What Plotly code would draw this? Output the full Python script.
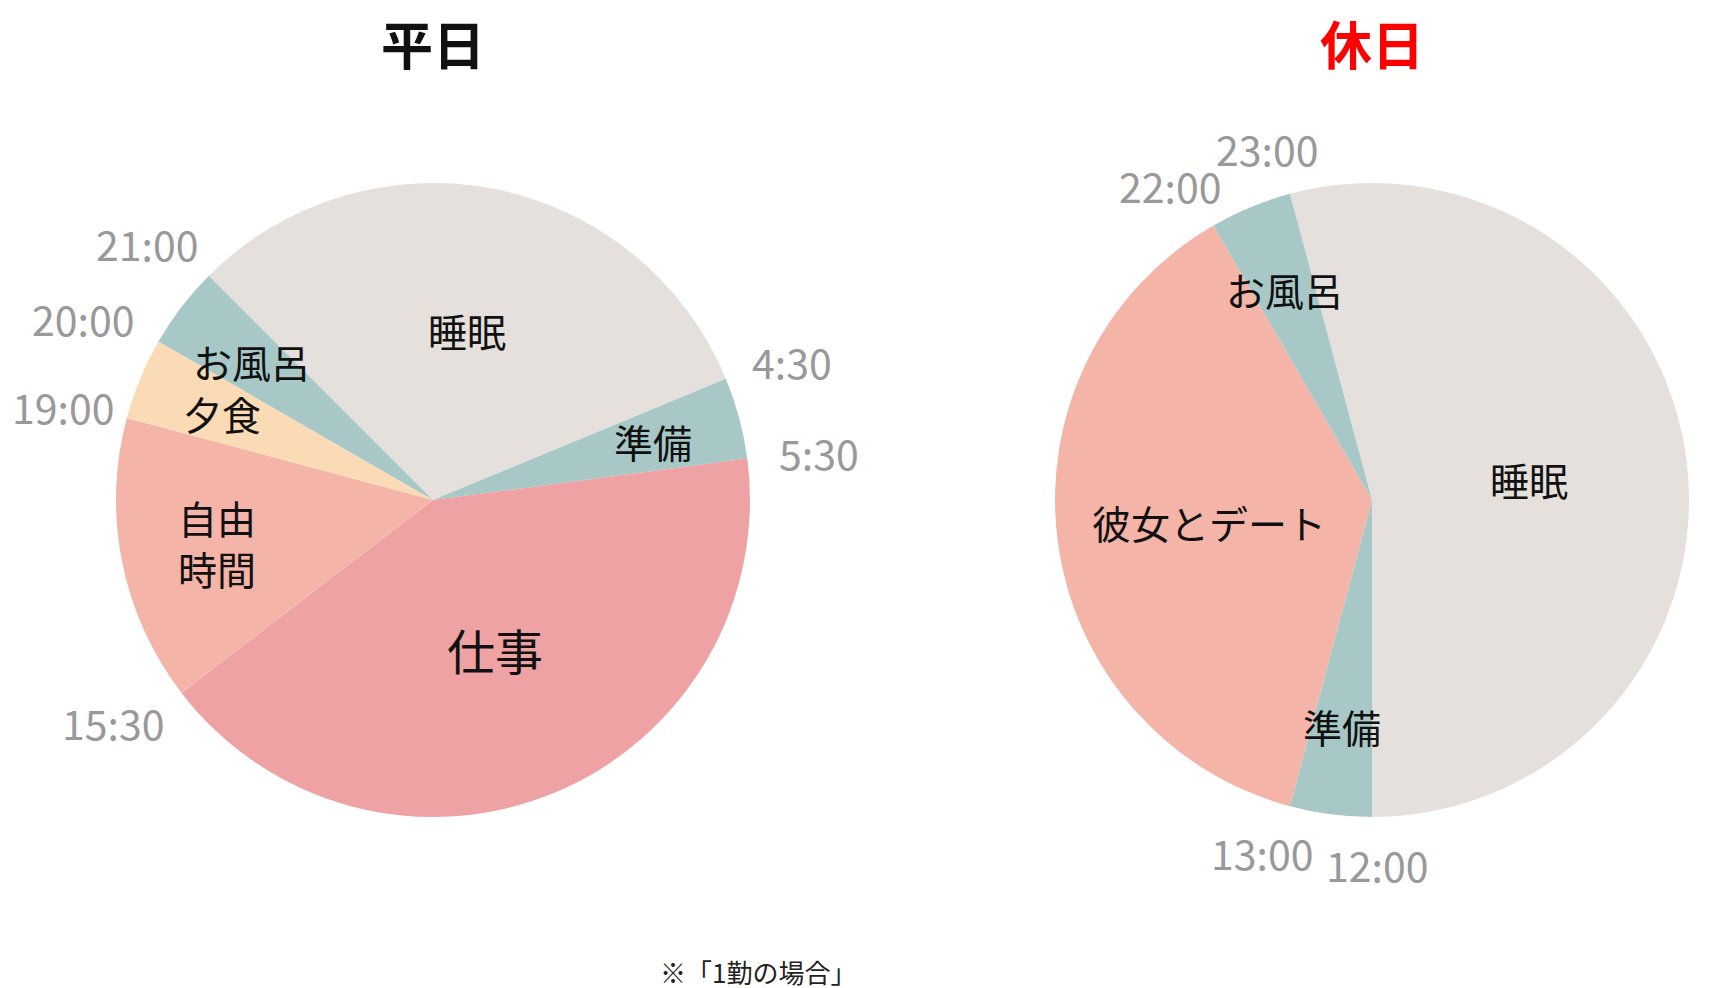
"""Daily schedule as two 24-hour clock pies: weekday vs. holiday."""

import math

import plotly.graph_objects as go

# --- data -------------------------------------------------------------------
weekday_labels = ["睡眠", "準備", "仕事", "自由時間", "夕食", "お風呂"]
weekday_text = ["睡眠", "準備", "仕事", "自由<br>時間", "夕食", "お風呂"]
weekday_hours = [7.5, 1, 10, 3.5, 1, 1]
weekday_start = 21.0

holiday_labels = ["睡眠", "準備", "彼女とデート", "お風呂"]
holiday_text = ["睡眠", "準備", "彼女とデート", "お風呂"]
holiday_hours = [13, 1, 9, 1]
holiday_start = 23.0

colors = {
    "睡眠": "#e5e0dc",
    "準備": "#a8c8c8",
    "お風呂": "#a8c8c8",
    "仕事": "#eea2a3",
    "自由時間": "#f4b4a8",
    "彼女とデート": "#f4b4a8",
    "夕食": "#fbdbb5",
}

W, H = 1726, 988
R = 317  # pie radius in px
FONT = "Noto Sans CJK JP"
TIME_SIZE = 41


def fmt_time(h):
    h = h % 24
    return f"{int(h)}:{int(round((h - int(h)) * 60)):02d}"


def text_width(s, size):
    # rough advance widths for digits / colon in Noto Sans CJK
    return sum((0.27 if ch == ":" else 0.56) * size for ch in s)


def add_clock_pie(fig, labels, texts, hours, start, cx_px, cy_px, title, title_color):
    x0, x1 = (cx_px - R) / W, (cx_px + R) / W
    y0, y1 = 1 - (cy_px + R) / H, 1 - (cy_px - R) / H
    fig.add_trace(
        go.Pie(
            labels=labels,
            values=hours,
            sort=False,
            direction="clockwise",
            rotation=start / 24 * 360,
            marker=dict(colors=[colors[l] for l in labels], line=dict(width=0)),
            textinfo="none",
            hoverinfo="label+value",
            showlegend=False,
            domain=dict(x=[x0, x1], y=[y0, y1]),
        )
    )

    def polar(angle_deg, r_px):
        a = math.radians(angle_deg)
        return cx_px + r_px * math.sin(a), cy_px - r_px * math.cos(a)

    total = sum(hours)
    t = start
    time_boxes = []
    for lab, txt, h in zip(labels, texts, hours):
        a0 = t / total * 360
        a1 = (t + h) / total * 360
        half = math.radians((a1 - a0) / 2)
        # label sits at the centre of the slice's inscribed circle (capped)
        r_frac = 0.5 if half >= math.pi / 2 else 1 / (1 + math.sin(half))
        r_frac = min(r_frac, 0.72)
        px, py = polar((a0 + a1) / 2, R * r_frac)
        fig.add_annotation(
            x=px / W, y=1 - py / H, xref="paper", yref="paper", text=txt,
            showarrow=False, xanchor="center", yanchor="middle",
            font=dict(family=FONT, size=48 if lab == "仕事" else 39, color="#111111"),
        )

        # boundary time label just outside the circle
        tl = fmt_time(t)
        hw = text_width(tl, TIME_SIZE) / 2
        hh = 18
        s, c = math.sin(math.radians(a0)), math.cos(math.radians(a0))
        bx, by = polar(a0, R + 20)
        time_boxes.append([bx + s * hw * 1.3, by - c * hh * 1.5, hw, tl])
        t += h

    # nudge neighbouring time labels apart if they collide
    for i in range(len(time_boxes)):
        a, b = time_boxes[i], time_boxes[(i + 1) % len(time_boxes)]
        if abs(a[1] - b[1]) < 2 * 18:
            need = a[2] + b[2] + 12 - abs(a[0] - b[0])
            if need > 0:
                sign = 1 if a[0] >= b[0] else -1
                a[0] += sign * need / 2
                b[0] -= sign * need / 2

    for bx, by, hw, tl in time_boxes:
        bx = min(max(bx, hw + 4), W - hw - 4)  # keep inside the page
        fig.add_annotation(
            x=bx / W, y=1 - by / H, xref="paper", yref="paper", text=tl,
            showarrow=False, xanchor="center", yanchor="middle",
            font=dict(family=FONT, size=TIME_SIZE, color="#999999"),
        )

    fig.add_annotation(
        x=cx_px / W, y=1 - 35 / H, xref="paper", yref="paper", text=f"<b>{title}</b>",
        showarrow=False, xanchor="center", yanchor="middle",
        font=dict(family=FONT, size=52, color=title_color),
    )


fig = go.Figure()
add_clock_pie(fig, weekday_labels, weekday_text, weekday_hours, weekday_start,
              425, 492, "平日", "#111111")
add_clock_pie(fig, holiday_labels, holiday_text, holiday_hours, holiday_start,
              1364, 492, "休日", "#ff0000")

fig.add_annotation(
    x=750 / W, y=1 - 963 / H, xref="paper", yref="paper", text="※「1勤の場合」",
    showarrow=False, xanchor="center", yanchor="middle",
    font=dict(family=FONT, size=26, color="#222222"),
)

fig.update_layout(
    width=W,
    height=H,
    margin=dict(l=0, r=0, t=0, b=0),
    paper_bgcolor="white",
    plot_bgcolor="white",
    font=dict(family=FONT),
)

fig.write_html("out.html")
